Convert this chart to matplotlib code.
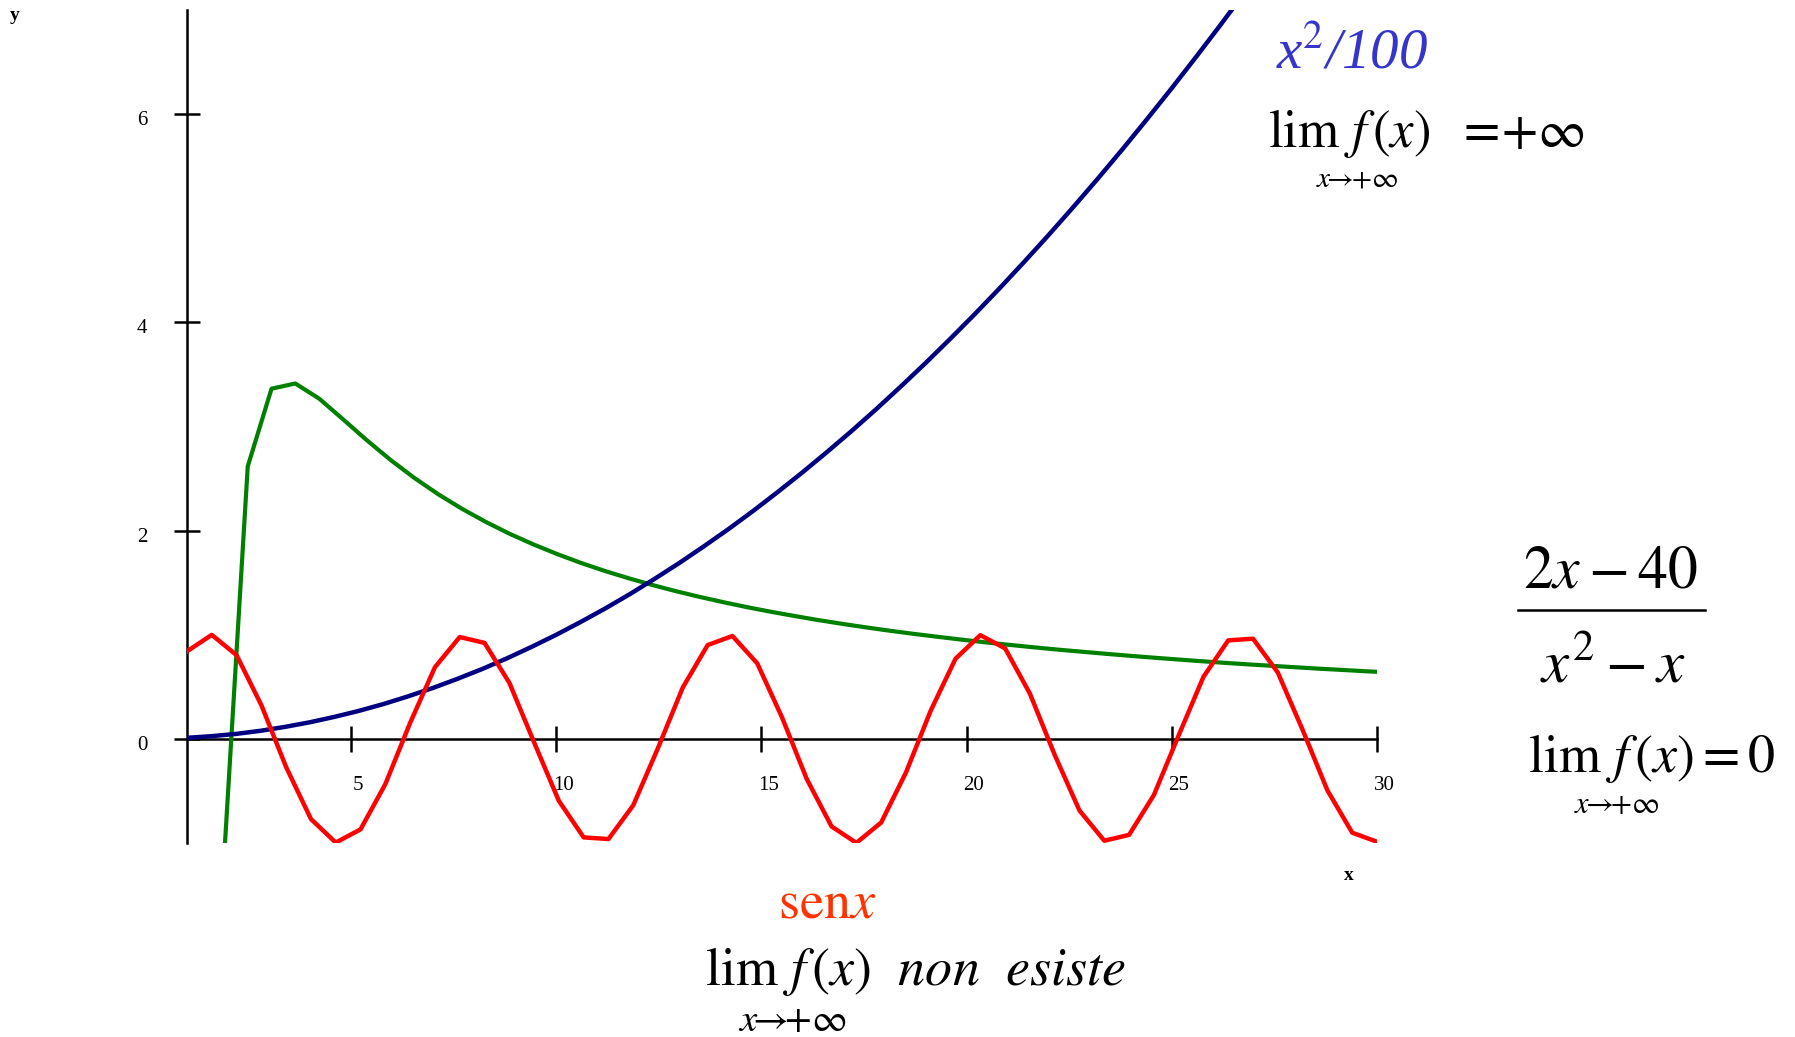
import numpy as np
import matplotlib
matplotlib.use('Agg')
import matplotlib.pyplot as plt
from matplotlib.lines import Line2D
from matplotlib.transforms import ScaledTranslation

W, H = 1795, 1037
DPI = 100

sen_x = [1.000, 1.604, 2.208, 2.813, 3.417, 4.021, 4.625, 5.229, 5.833, 6.438,
         7.042, 7.646, 8.250, 8.854, 9.458, 10.063, 10.667, 11.271, 11.875, 12.479,
         13.083, 13.688, 14.292, 14.896, 15.500, 16.104, 16.708, 17.313, 17.917, 18.521,
         19.125, 19.729, 20.333, 20.938, 21.542, 22.146, 22.750, 23.354, 23.958, 24.563,
         25.167, 25.771, 26.375, 26.979, 27.583, 28.188, 28.792, 29.396, 30.000]
sen_y = [0.841, 0.999, 0.804, 0.323, -0.272, -0.770, -0.996, -0.869, -0.435, 0.154,
         0.688, 0.978, 0.922, 0.540, -0.033, -0.596, -0.946, -0.962, -0.638, -0.087,
         0.494, 0.901, 0.988, 0.726, 0.207, -0.386, -0.841, -0.999, -0.803, -0.323,
         0.272, 0.770, 0.996, 0.869, 0.434, -0.154, -0.688, -0.978, -0.922, -0.539,
         0.034, 0.596, 0.946, 0.962, 0.637, 0.086, -0.495, -0.901, -0.988]

# green trace: rational function
rat_x = [1.90, 2.48, 3.06, 3.64, 4.22, 4.80, 5.38, 5.96, 6.54, 7.12,
         7.70, 8.28, 8.86, 9.44, 10.02, 10.60, 11.18, 11.76, 12.34, 12.92,
         13.50, 14.08, 14.66, 15.24, 15.82, 16.40, 16.98, 17.56, 18.14, 18.72,
         19.30, 19.88, 20.46, 21.04, 21.62, 22.20, 22.78, 23.36, 23.94, 24.52,
         25.10, 25.68, 26.26, 26.84, 27.42, 28.00, 28.58, 29.16, 29.74, 30.00]
rat_y = [-1.17, 2.616, 3.363, 3.413, 3.268, 3.070, 2.869, 2.679, 2.506, 2.350,
         2.210, 2.084, 1.970, 1.868, 1.775, 1.690, 1.613, 1.543, 1.478, 1.418,
         1.363, 1.312, 1.264, 1.220, 1.179, 1.140, 1.104, 1.070, 1.038, 1.008,
         0.980, 0.953, 0.927, 0.903, 0.880, 0.858, 0.838, 0.818, 0.799, 0.781,
         0.764, 0.747, 0.731, 0.716, 0.702, 0.688, 0.674, 0.662, 0.649, 0.644]

# navy trace: x^2/100
par_x = [1.0, 1.6, 2.2, 2.8, 3.4, 4.0, 4.6, 5.2, 5.8, 6.4, 7.0, 7.6, 8.2, 8.8,
         9.4, 10.0, 10.6, 11.2, 11.8, 12.4, 13.0, 13.6, 14.2, 14.8, 15.4, 16.0,
         16.6, 17.2, 17.8, 18.4, 19.0, 19.6, 20.2, 20.8, 21.4, 22.0, 22.6, 23.2,
         23.8, 24.4, 25.0, 25.6, 26.2, 26.8]
par_y = [0.010, 0.026, 0.048, 0.078, 0.116, 0.160, 0.212, 0.270, 0.336, 0.410,
         0.490, 0.578, 0.672, 0.774, 0.884, 1.000, 1.124, 1.254, 1.392, 1.538,
         1.690, 1.850, 2.016, 2.190, 2.372, 2.560, 2.756, 2.958, 3.168, 3.386,
         3.610, 3.842, 4.080, 4.326, 4.580, 4.840, 5.108, 5.382, 5.664, 5.954,
         6.250, 6.554, 6.864, 7.182]

x_ticks = [5, 10, 15, 20, 25, 30]
y_ticks = [0, 2, 4, 6]

plt.rcParams['mathtext.fontset'] = 'stix'
plt.rcParams['font.family'] = ['Liberation Serif', 'DejaVu Serif']


def px(x, y):
    # pixel position (from top-left) -> figure fraction
    return x / W, 1 - y / H


fig = plt.figure(figsize=(W / DPI, H / DPI), dpi=DPI)
ax = fig.add_axes([187 / W, 1 - 843 / H, (1377 - 187) / W, (843 - 10) / H])
ax.set_xlim(1, 30)
ax.set_ylim(-1, 7)

ax.plot(rat_x, rat_y, color='#008000', lw=3.0, zorder=3)
ax.plot(par_x, par_y, color='#000080', lw=3.2, zorder=4)
ax.plot(sen_x, sen_y, color='#ff0000', lw=3.2, zorder=5)

for s in ['top', 'right']:
    ax.spines[s].set_visible(False)
ax.spines['bottom'].set_position(('data', 0))
ax.spines['left'].set_linewidth(1.8)
ax.spines['bottom'].set_linewidth(1.8)

ax.set_xticks(x_ticks)
ax.set_yticks(y_ticks)
ax.tick_params(axis='both', direction='inout', length=19, width=1.8, labelsize=15)
ax.tick_params(axis='x', pad=17)
ax.tick_params(axis='y', pad=19)
for lab in ax.get_xticklabels():
    lab.set_transform(lab.get_transform() + ScaledTranslation(0.07, 0, fig.dpi_scale_trans))
for lab in ax.get_yticklabels():
    lab.set_transform(lab.get_transform() + ScaledTranslation(0, -0.04, fig.dpi_scale_trans))

fig.text(*px(1349, 876), 'x', fontsize=14, fontweight='bold', ha='center', va='center')
fig.text(*px(15, 15), 'y', fontsize=14, fontweight='bold', ha='center', va='center')

arrow = r'$x\!\!\rightarrow\!\!{+}\infty$'

# x^2/100
fig.text(*px(1276, 68), 'x$^{2}$/100', color='#3535cc', fontsize=41, fontstyle='italic',
         ha='left', va='baseline')
fig.text(*px(1268, 147), r'$\mathrm{lim}\ f\,(x)\ \ =\!{+}\infty$', fontsize=38,
         ha='left', va='baseline')
fig.text(*px(1316, 180), arrow, fontsize=21, ha='left', va='center')

# rational function
fig.text(*px(1523, 587), r'$2x-40$', fontsize=43, ha='left', va='baseline')
fig.add_artist(Line2D([1518 / W, 1705 / W], [1 - 610 / H, 1 - 610 / H], color='k', lw=1.8))
fig.text(*px(1540, 682), r'$x^{2}-x$', fontsize=44, ha='left', va='baseline')
fig.text(*px(1528, 772), r'$\mathrm{lim}\ f\,(x)=0$', fontsize=39,
         ha='left', va='baseline')
fig.text(*px(1574, 805), arrow, fontsize=22, ha='left', va='center')

# sen x
fig.text(*px(778, 918), r'$\mathrm{sen}x$', color='#ff3300', fontsize=39,
         ha='left', va='baseline')
fig.text(*px(705, 985), r'$\mathrm{lim}\ f\,(x)\ \ \mathit{non}\ \ \mathit{esiste}$',
         fontsize=39, ha='left', va='baseline')
fig.text(*px(738, 1022), arrow, fontsize=28, ha='left', va='center')

fig.savefig('out.png', dpi=DPI)
